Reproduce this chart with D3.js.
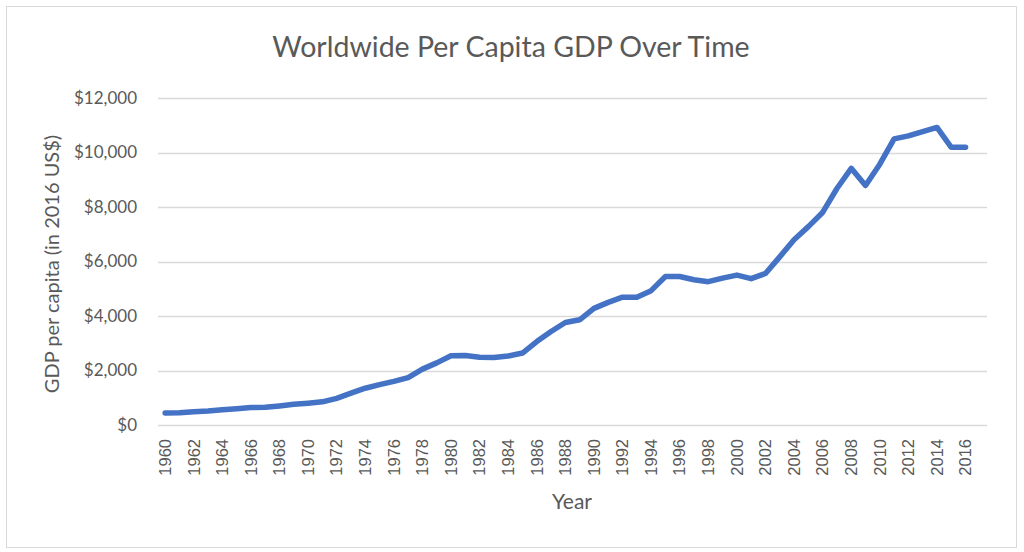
<!DOCTYPE html>
<html>
<head>
<meta charset="utf-8">
<script src="https://cdn.jsdelivr.net/npm/d3@7"></script>
<style>
  body { margin: 0; background: #fff; }
  svg { display: block; }
</style>
</head>
<body>
<svg id="chart" width="1024" height="552"></svg>
<script>
// years on the category axis (2017 has no value yet)
const years = d3.range(1960, 2018);

// GDP per capita, current US$
const gdp = [
  440, 450, 490, 510, 560, 600, 640, 650, 700, 760,
  800, 850, 980, 1170, 1350, 1480, 1600, 1740, 2050, 2280,
  2540, 2550, 2490, 2480, 2530, 2640, 3060, 3430, 3760, 3860,
  4280, 4500, 4690, 4690, 4930, 5450, 5450, 5330, 5260, 5390,
  5500, 5370, 5560, 6170, 6800, 7280, 7800, 8680, 9420, 8790,
  9570, 10500, 10610, 10770, 10920, 10190, 10190, null
];

const yTicks = [0, 2000, 4000, 6000, 8000, 10000, 12000];

const margin = { left: 158, right: 37, top: 98, bottom: 127 };
const W = 1024, H = 552;

const svg = d3.select("#chart");

// outer chart border
svg.append("rect")
  .attr("x", 6.5).attr("y", 6.5)
  .attr("width", 1010).attr("height", 541)
  .attr("fill", "#fff")
  .attr("stroke", "#d9d9d9")
  .attr("stroke-width", 1);

const x = d3.scaleBand()
  .domain(years)
  .range([margin.left, W - margin.right]);

const y = d3.scaleLinear()
  .domain([0, 12000])
  .range([H - margin.bottom, margin.top]);

// gridlines
svg.append("g")
  .selectAll("line")
  .data(yTicks)
  .enter()
  .append("line")
  .attr("x1", margin.left)
  .attr("x2", W - margin.right)
  .attr("y1", d => Math.round(y(d)) + 0.5)
  .attr("y2", d => Math.round(y(d)) + 0.5)
  .attr("stroke", "#d9d9d9")
  .attr("stroke-width", 1.3);

// y axis labels
const fmt = d3.format("$,");
svg.append("g")
  .selectAll("text")
  .data(yTicks)
  .enter()
  .append("text")
  .attr("x", 137)
  .attr("y", d => y(d))
  .attr("dy", "0.35em")
  .attr("text-anchor", "end")
  .attr("font-family", "Lato, 'Open Sans', sans-serif")
  .attr("font-size", 17)
  .attr("fill", "#595959")
  .text(d => fmt(d));

// x axis labels, every other year, rotated
svg.append("g")
  .selectAll("text")
  .data(years.filter(d => d % 2 === 0))
  .enter()
  .append("text")
  .attr("transform", d => `translate(${x(d) + x.bandwidth() / 2},${H - margin.bottom + 14}) rotate(-90)`)
  .attr("dy", "0.35em")
  .attr("text-anchor", "end")
  .attr("font-family", "'Liberation Sans', Arial, sans-serif")
  .attr("font-size", 16.5)
  .attr("fill", "#595959")
  .text(d => d);

// the line
const line = d3.line()
  .defined(d => d[1] != null)
  .x(d => x(d[0]) + x.bandwidth() / 2)
  .y(d => y(d[1]));

svg.append("path")
  .datum(years.map((d, i) => [d, gdp[i]]))
  .attr("fill", "none")
  .attr("stroke", "#4472c4")
  .attr("stroke-width", 5.5)
  .attr("stroke-linejoin", "round")
  .attr("stroke-linecap", "round")
  .attr("d", line);

// titles
svg.append("text")
  .attr("x", 511)
  .attr("y", 57)
  .attr("text-anchor", "middle")
  .attr("font-family", "Lato, 'Open Sans', sans-serif")
  .attr("font-size", 28.5)
  .attr("fill", "#595959")
  .text("Worldwide Per Capita GDP Over Time");

svg.append("text")
  .attr("x", 572)
  .attr("y", 509)
  .attr("text-anchor", "middle")
  .attr("font-family", "Lato, 'Open Sans', sans-serif")
  .attr("font-size", 21)
  .attr("fill", "#595959")
  .text("Year");

svg.append("text")
  .attr("transform", `translate(52,264) rotate(-90)`)
  .attr("dy", "0.35em")
  .attr("text-anchor", "middle")
  .attr("font-family", "Lato, 'Open Sans', sans-serif")
  .attr("font-size", 20)
  .attr("fill", "#595959")
  .text("GDP per capita (in 2016 US$)");
</script>
</body>
</html>
